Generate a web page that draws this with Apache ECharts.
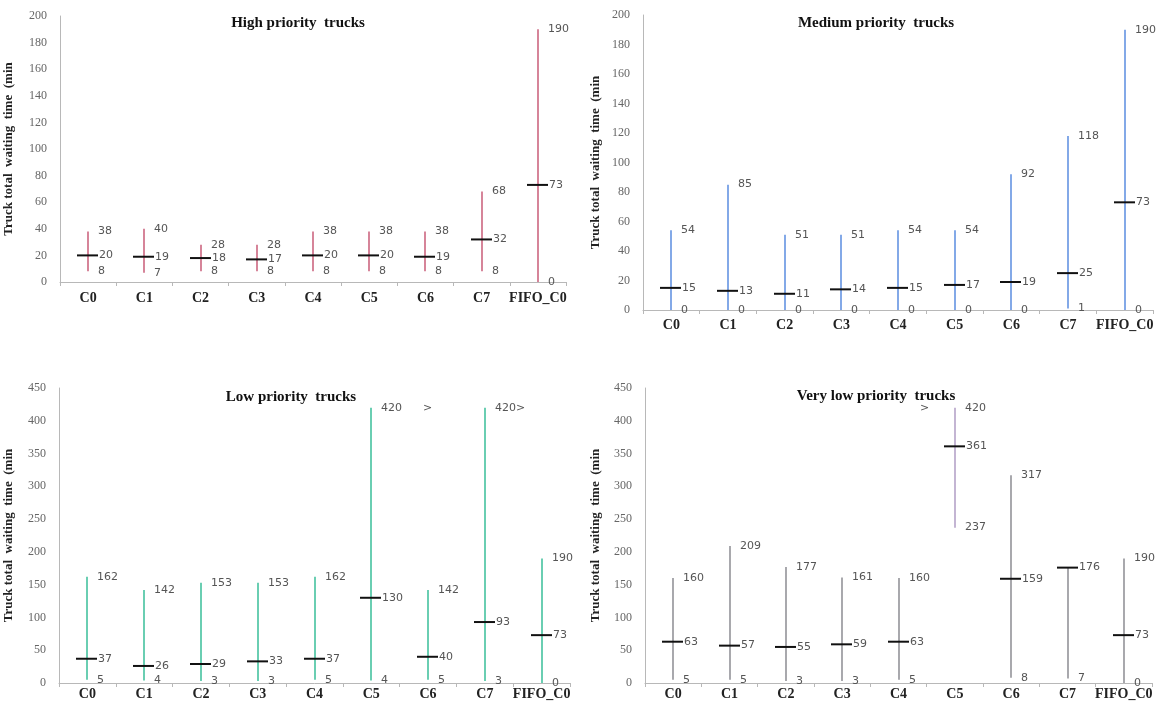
<!DOCTYPE html>
<html><head><meta charset="utf-8">
<script src="https://cdn.jsdelivr.net/npm/echarts@6/dist/echarts.min.js"></script>
<style>html,body{margin:0;padding:0;background:#fff}#c{width:1160px;height:708px}</style>
</head><body><div id="c"></div>
<script>
const categories = ['C0','C1','C2','C3','C4','C5','C6','C7','FIFO_C0'];

const highMin  = [8, 7, 8, 8, 8, 8, 8, 8, 0];
const highMean = [20, 19, 18, 17, 20, 20, 19, 32, 73];
const highMax  = [38, 40, 28, 28, 38, 38, 38, 68, 190];

const mediumMin  = [0, 0, 0, 0, 0, 0, 0, 1, 0];
const mediumMean = [15, 13, 11, 14, 15, 17, 19, 25, 73];
const mediumMax  = [54, 85, 51, 51, 54, 54, 92, 118, 190];

const lowMin  = [5, 4, 3, 3, 5, 4, 5, 3, 0];
const lowMean = [37, 26, 29, 33, 37, 130, 40, 93, 73];
const lowMax  = [162, 142, 153, 153, 162, 420, 142, 420, 190];
const lowMaxLabels = ['162','142','153','153','162','420      >','142','420>','190'];

const veryLowMin  = [5, 5, 3, 3, 5, 237, 8, 7, 0];
const veryLowMean = [63, 57, 55, 59, 63, 361, 159, 176, 73];
const veryLowMax  = [160, 209, 177, 161, 160, 420, 317, 176, 190];
const veryLowNotes = ['','','','','','>','','',''];

const titles = ['High priority  trucks','Medium priority  trucks','Low priority  trucks','Very low priority  trucks'];
const yName = 'Truck total  waiting  time  (min';

const panels = [
  {title: titles[0], min: highMin, mean: highMean, max: highMax, yMax: 200, yInt: 20,
   grid: {left: 60, top: 16, width: 506, height: 266}, titlePos: [293, 11], nameGap: 45, labelMargin: 9,
   color: '#cc6680'},
  {title: titles[1], min: mediumMin, mean: mediumMean, max: mediumMax, yMax: 200, yInt: 20,
   grid: {left: 643, top: 15, width: 510, height: 295}, titlePos: [871, 11], nameGap: 41, labelMargin: 8,
   color: '#6494e2'},
  {title: titles[2], min: lowMin, mean: lowMean, max: lowMax, maxLabels: lowMaxLabels, yMax: 450, yInt: 50,
   grid: {left: 59, top: 388, width: 511, height: 295}, titlePos: [286, 385], nameGap: 44, labelMargin: 4,
   color: '#45c29f'},
  {title: titles[3], min: veryLowMin, mean: veryLowMean, max: veryLowMax, notes: veryLowNotes, yMax: 450, yInt: 50,
   grid: {left: 645, top: 388, width: 507, height: 295}, titlePos: [871, 384], nameGap: 43, labelMargin: 4,
   color: '#939399', colorOverride: {5: '#b5a3c8'}}
];

const labelFont = {fontFamily: 'DejaVu Sans', fontSize: 11, fill: '#555'};

const option = {
  animation: false,
  backgroundColor: '#fff',
  title: [], grid: [], xAxis: [], yAxis: [], series: []
};

panels.forEach((p, k) => {
  option.title.push({
    text: p.title, left: p.titlePos[0], top: p.titlePos[1], textAlign: 'center',
    textStyle: {fontFamily: 'Liberation Serif', fontWeight: 'bold', fontSize: 15, color: '#111'}
  });
  option.grid.push(Object.assign({containLabel: false}, p.grid));
  option.xAxis.push({
    type: 'category', gridIndex: k, data: categories, boundaryGap: true,
    axisLine: {lineStyle: {color: '#b8b8b8', width: 1}},
    axisTick: {show: true, length: 4, lineStyle: {color: '#b8b8b8'}},
    axisLabel: {interval: 0, hideOverlap: false, margin: p.labelMargin, fontFamily: 'Liberation Serif', fontWeight: 'bold', fontSize: 14, color: '#222'}
  });
  option.yAxis.push({
    type: 'value', gridIndex: k, min: 0, max: p.yMax, interval: p.yInt,
    name: yName, nameLocation: 'middle', nameRotate: 90, nameGap: p.nameGap,
    nameTextStyle: {fontFamily: 'Liberation Serif', fontWeight: 'bold', fontSize: 13, color: '#222'},
    axisLine: {show: true, lineStyle: {color: '#b8b8b8', width: 1}},
    axisTick: {show: false},
    splitLine: {show: false},
    axisLabel: {margin: 13, fontFamily: 'Liberation Serif', fontSize: 12, color: '#666'}
  });
  option.series.push({
    type: 'custom', xAxisIndex: k, yAxisIndex: k,
    data: categories.map((c, i) => [i, p.min[i], p.mean[i], p.max[i]]),
    renderItem: function (params, api) {
      const i = params.dataIndex;
      const x = api.value(0);
      const vMin = api.value(1), vMean = api.value(2), vMax = api.value(3);
      const pMin = api.coord([x, vMin]);
      const pMean = api.coord([x, vMean]);
      const pMax = api.coord([x, vMax]);
      const cx = Math.round(pMin[0]);
      const col = (p.colorOverride && p.colorOverride[i]) || p.color;
      const children = [
        {type: 'line', shape: {x1: cx, y1: pMax[1], x2: cx, y2: pMin[1]}, style: {stroke: col, lineWidth: 1.6}},
        {type: 'line', shape: {x1: cx - 11, y1: pMean[1], x2: cx + 10, y2: pMean[1]}, style: {stroke: '#111', lineWidth: 2}},
        {type: 'text', x: cx + 11, y: pMean[1], style: Object.assign({text: String(vMean), verticalAlign: 'middle', align: 'left'}, labelFont)},
        {type: 'text', x: cx + 10, y: pMin[1], style: Object.assign({text: String(vMin), verticalAlign: 'middle', align: 'left'}, labelFont)}
      ];
      if (vMax !== vMean) {
        const t = p.maxLabels ? p.maxLabels[i] : String(vMax);
        children.push({type: 'text', x: cx + 10, y: pMax[1], style: Object.assign({text: t, verticalAlign: 'middle', align: 'left'}, labelFont)});
      }
      if (p.notes && p.notes[i]) {
        children.push({type: 'text', x: cx - 35, y: pMax[1], style: Object.assign({text: p.notes[i], verticalAlign: 'middle', align: 'left'}, labelFont)});
      }
      return {type: 'group', children: children};
    }
  });
});

const chart = echarts.init(document.getElementById('c'), null, {renderer: 'canvas'});
chart.setOption(option);
</script>
</body></html>
